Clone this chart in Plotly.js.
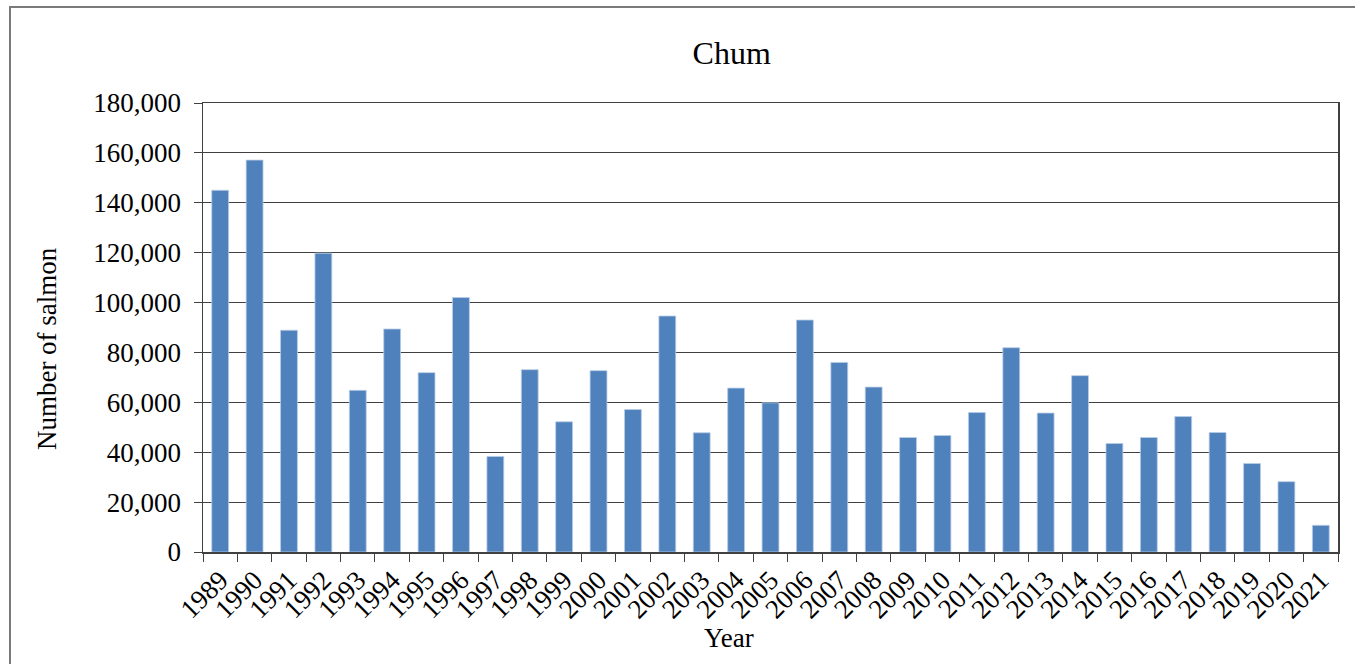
<!DOCTYPE html>
<html>
<head>
<meta charset="utf-8">
<script src="https://cdn.plot.ly/plotly-3.0.1.min.js"></script>
<style>
html,body{margin:0;padding:0;background:#fff;}
#frame{position:absolute;left:9px;top:6px;width:1400px;height:700px;border-left:2px solid #7a7a7a;border-top:2px solid #7a7a7a;pointer-events:none;z-index:5;}
#chart{position:absolute;left:0;top:0;width:1355px;height:664px;}
</style>
</head>
<body>
<div id="chart"></div>
<div id="frame"></div>
<script>
const years = ["1989","1990","1991","1992","1993","1994","1995","1996","1997","1998","1999","2000","2001","2002","2003","2004","2005","2006","2007","2008","2009","2010","2011","2012","2013","2014","2015","2016","2017","2018","2019","2020","2021"];
const salmon = [145000,157100,88900,119800,64800,89400,71900,102000,38300,73100,52200,72700,57100,94600,47800,65700,59800,93000,76000,66100,45900,46700,55900,81900,55700,70700,43500,45900,54300,47900,35500,28200,10700];
const yTicks = [0,20000,40000,60000,80000,100000,120000,140000,160000,180000];
const yTickLabels = ["0","20,000","40,000","60,000","80,000","100,000","120,000","140,000","160,000","180,000"];

const font = "Liberation Serif, Times New Roman, serif";

Plotly.newPlot('chart', [{
  type: 'bar',
  x: years,
  y: salmon,
  marker: {color: '#4F81BD', line: {color: '#B9CDE5', width: 0.8}},
  hoverinfo: 'x+y'
}], {
  width: 1355, height: 664,
  margin: {l: 203, r: 17, t: 103, b: 112},
  paper_bgcolor: '#fff', plot_bgcolor: '#fff',
  bargap: 0.51,
  showlegend: false,
  title: {text: 'Chum', font: {family: font, size: 32, color: '#000'}, x: 0.54, xanchor: 'center', y: 0.92, yanchor: 'middle'},
  xaxis: {
    type: 'category',
    tickangle: -45,
    tickfont: {family: font, size: 27, color: '#000'},
    ticks: 'outside', ticklen: 8, tickcolor: '#404040', tickwidth: 1,
    tickson: 'boundaries',
    showline: true, linecolor: '#404040', linewidth: 1.5, mirror: true,
    showgrid: false
  },
  yaxis: {
    range: [0, 180000],
    tickvals: yTicks, ticktext: yTickLabels,
    tickfont: {family: font, size: 27, color: '#000'},
    ticks: 'outside', ticklen: 8, tickcolor: '#404040', tickwidth: 1,
    ticklabelstandoff: 7,
    showline: true, linecolor: '#404040', linewidth: 1.5, mirror: true,
    showgrid: true, gridcolor: '#404040', gridwidth: 1,
    zeroline: false
  },
  annotations: [
    {text: 'Number of salmon', xref: 'paper', yref: 'paper', x: -0.1374, y: 0.452, xanchor: 'center', yanchor: 'middle', textangle: -90, showarrow: false, font: {family: font, size: 27, color: '#000'}},
    {text: 'Year', xref: 'paper', yref: 'paper', x: 0.4634, y: -0.192, xanchor: 'center', yanchor: 'middle', showarrow: false, font: {family: font, size: 27, color: '#000'}}
  ]
}, {displayModeBar: false, staticPlot: true});
</script>
</body>
</html>
